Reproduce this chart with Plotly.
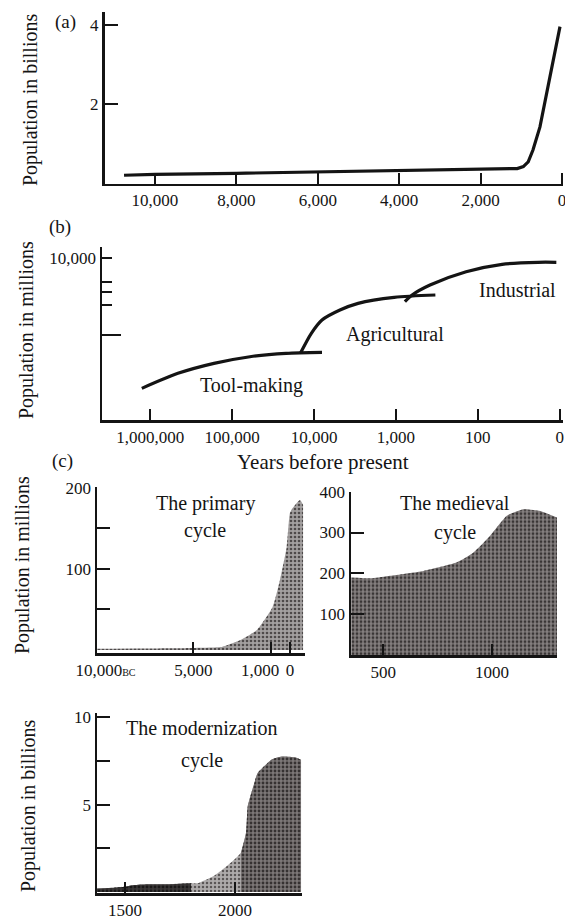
import plotly.graph_objects as go

W, H = 565, 920
FONT = "Liberation Serif"
INK = "#141414"

# ---------------- data ----------------
# (a) world population, billions, vs years before present
a_years = [10760, 10000, 8000, 6000, 4000, 2000, 1100, 950, 830, 713, 541, 295, 49]
a_pop = [0.18, 0.20, 0.23, 0.26, 0.29, 0.32, 0.35, 0.40, 0.52, 0.82, 1.41, 2.69, 3.96]
a_xticks = [10000, 8000, 6000, 4000, 2000, 0]
a_xlabels = ["10,000", "8,000", "6,000", "4,000", "2,000", "0"]
a_yticks = [2, 4]

# (b) population in millions (log) vs years before present (log)
tool_years = [1.27e6, 4.6e5, 1.67e5, 6.07e4, 2.2e4, 8.0e3]
tool_pop = [0.124, 0.457, 1.09, 1.94, 2.6, 2.84]
agri_years = [1.47e4, 1.08e4, 8.0e3, 4.83e3, 2.9e3, 1.05e3, 330]
agri_pop = [2.6, 14.8, 47, 112, 200, 337, 412]
ind_years = [778, 635, 384, 139, 50.5, 18.4, 11]
ind_pop = [230, 412, 982, 3120, 5940, 7070, 7070]
b_xticks = [1e6, 1e5, 1e4, 1e3, 1e2, 1e1]
b_xlabels = ["1,000,000", "100,000", "10,000", "1,000", "100", "0"]
b_yticks = [10000, 1280, 550, 173]
b_ylabels = ["10,000", "", "", ""]
b_yminor = [12.8]

# (c) cycles
prim_years = [-10000, -8000, -6000, -5000, -4000, -3500, -2600, -1700, -900, -520, -170, 0, 170, 520, 680]
prim_pop = [1.5, 1.8, 2.2, 2.5, 3, 4, 12, 25, 53, 86, 127, 169, 176, 185, 179]
prim_xticks = [-10000, -5000, -1000, 0]
prim_xlabels = ["\u00a0\u00a0\u00a0\u00a010,000<span style='font-size:10px'>BC</span>", "5,000",
                "1,000\u00a0\u00a0\u00a0\u00a0\u00a0", "0"]
prim_yticks = [50, 100, 150, 200]
prim_ylabels = ["", "100", "", "200"]

med_years = [352, 450, 531, 685, 839, 915, 992, 1069, 1146, 1223, 1300]
med_pop = [190, 188, 194, 206, 227, 251, 292, 341, 357, 353, 337]
med_xticks = [500, 1000]
med_yticks = [100, 200, 300, 400]

mod_years = [1373, 1450, 1500, 1540, 1600, 1700, 1800, 1829, 1905, 1982, 2027, 2050, 2058, 2088, 2103, 2166, 2211, 2272, 2300]
mod_pop = [0.2, 0.25, 0.3, 0.4, 0.45, 0.45, 0.5, 0.5, 0.93, 1.69, 2.26, 3.39, 4.9, 6.23, 6.8, 7.56, 7.74, 7.7, 7.56]
mod_xticks = [1500, 2000]
mod_yticks = [2.5, 5, 7.5, 10]
mod_ylabels = ["", "5", "", "10"]


def X(p):
    return p / W


def Y(p):
    return 1 - p / H


fig = go.Figure()

fig.add_trace(go.Scatter(x=a_years, y=a_pop, mode="lines", line=dict(color=INK, width=3.2),
                         xaxis="x", yaxis="y", showlegend=False, hoverinfo="skip"))
for xs, ys in [(tool_years, tool_pop), (agri_years, agri_pop), (ind_years, ind_pop)]:
    fig.add_trace(go.Scatter(x=xs, y=ys, mode="lines",
                             line=dict(color=INK, width=3.2, shape="spline", smoothing=0.8),
                             xaxis="x2", yaxis="y2", showlegend=False, hoverinfo="skip"))


def area(xs, ys, xa, ya, bg, fg, sol=0.35):
    fig.add_trace(go.Scatter(x=xs, y=ys, mode="lines", fill="tozeroy",
                             line=dict(width=0, color=bg, shape="spline", smoothing=0.5),
                             fillcolor=bg,
                             fillpattern=dict(shape=".", bgcolor=bg, fgcolor=fg, size=4, solidity=sol,
                                              fillmode="replace"),
                             xaxis=xa, yaxis=ya, showlegend=False, hoverinfo="skip"))


area(prim_years, prim_pop, "x3", "y3", "#a3a0a0", "#4e4a4a")
area(med_years, med_pop, "x4", "y4", "#858080", "#3a3636", 0.4)
area(mod_years, mod_pop, "x5", "y5", "#aeabab", "#5a5656", 0.3)
mod_early_x = [x for x in mod_years if x <= 1800]
mod_early_y = [y for x, y in zip(mod_years, mod_pop) if x <= 1800]
area(mod_early_x, mod_early_y, "x5", "y5", "#3a3737", "#1a1818", 0.4)
mod_hump_x = [x for x in mod_years if x >= 2027]
mod_hump_y = [y for x, y in zip(mod_years, mod_pop) if x >= 2027]
area(mod_hump_x, mod_hump_y, "x5", "y5", "#7c7777", "#363232", 0.4)

tickfont = dict(family=FONT, size=17, color=INK)
base = dict(showline=True, linecolor=INK, linewidth=2.5, ticks="inside", tickcolor=INK, tickwidth=2,
            ticklen=11, showgrid=False, zeroline=False, tickfont=tickfont, tickangle=0, fixedrange=True,
            automargin=False, ticklabeloverflow="allow")

layout_axes = {}
# (a)
layout_axes["xaxis"] = dict(base, domain=[X(104.5), X(563)], range=[11240, -25], anchor="y",
                            tickmode="array", tickvals=a_xticks, ticktext=a_xlabels)
layout_axes["yaxis"] = dict(base, domain=[Y(183.5), Y(11.7)], range=[-0.03, 4.34], anchor="x",
                            tickmode="array", tickvals=a_yticks, ticktext=[str(v) for v in a_yticks], ticklen=13)
# (b)
layout_axes["xaxis2"] = dict(base, type="log", domain=[X(102), X(563)], range=[6.59, 0.96], anchor="y2",
                             tickmode="array", tickvals=b_xticks, ticktext=b_xlabels)
layout_axes["yaxis2"] = dict(base, type="log", domain=[Y(420), Y(246.7)], range=[-2.10, 4.438], anchor="x2",
                             tickmode="array", tickvals=b_yticks, ticktext=b_ylabels, ticklen=10,
                             minor=dict(tickmode="array", tickvals=b_yminor, ticks="inside", ticklen=19,
                                        tickwidth=2, tickcolor=INK, showgrid=False))
# (c) primary
layout_axes["xaxis3"] = dict(base, domain=[X(97), X(305)], range=[-10000, 780], anchor="y3",
                             tickmode="array", tickvals=prim_xticks, ticktext=prim_xlabels)
layout_axes["yaxis3"] = dict(base, domain=[Y(653), Y(487)], range=[-3.7, 201], anchor="x3",
                             tickmode="array", tickvals=prim_yticks, ticktext=prim_ylabels, ticklen=13)
# (c) medieval
layout_axes["xaxis4"] = dict(base, domain=[X(351), X(557)], range=[351, 1300], anchor="y4",
                             tickmode="array", tickvals=med_xticks, ticktext=[str(v) for v in med_xticks])
layout_axes["yaxis4"] = dict(base, domain=[Y(655), Y(491.7)], range=[0, 400], anchor="x4",
                             tickmode="array", tickvals=med_yticks, ticktext=[str(v) for v in med_yticks], ticklen=13)
# (c) modernization
layout_axes["xaxis5"] = dict(base, domain=[X(97), X(301.7)], range=[1373, 2303], anchor="y5",
                             tickmode="array", tickvals=mod_xticks, ticktext=[str(v) for v in mod_xticks])
layout_axes["yaxis5"] = dict(base, domain=[Y(893), Y(713)], range=[-0.05, 10.23], anchor="x5",
                             tickmode="array", tickvals=mod_yticks, ticktext=mod_ylabels, ticklen=13)

ann = []


def text(t, x, y, size=20, angle=0):
    ann.append(dict(text=t, x=X(x), y=Y(y), xref="paper", yref="paper", showarrow=False,
                    xanchor="center", yanchor="middle", textangle=angle,
                    font=dict(family=FONT, size=size, color=INK)))


text("(a)", 65, 22, 19)
text("(b)", 60, 227, 19)
text("(c)", 62, 461, 19)
text("Population in billions", 30, 100, 20, -90)
text("Population in millions", 26, 330, 20, -90)
text("Population in millions", 22, 565, 20, -90)
text("Population in billions", 28, 806, 20, -90)
text("Industrial", 517, 290)
text("Agricultural", 395, 335)
text("Tool-making", 251, 385)
text("Years before present", 323, 462, 21)
text("The primary", 205, 503)
text("cycle", 205, 530)
text("The medieval", 455, 503)
text("cycle", 455, 532)
text("The modernization", 202, 728)
text("cycle", 202, 760)

fig.update_layout(template="none", width=W, height=H, autosize=False, margin=dict(l=0, r=0, t=0, b=0, pad=0),
                  paper_bgcolor="white", plot_bgcolor="white", showlegend=False,
                  annotations=ann, **layout_axes)

fig.write_html("out.html", config={"displayModeBar": False, "staticPlot": True},
               post_script="document.body.style.margin='0px';document.body.style.overflow='hidden';")
